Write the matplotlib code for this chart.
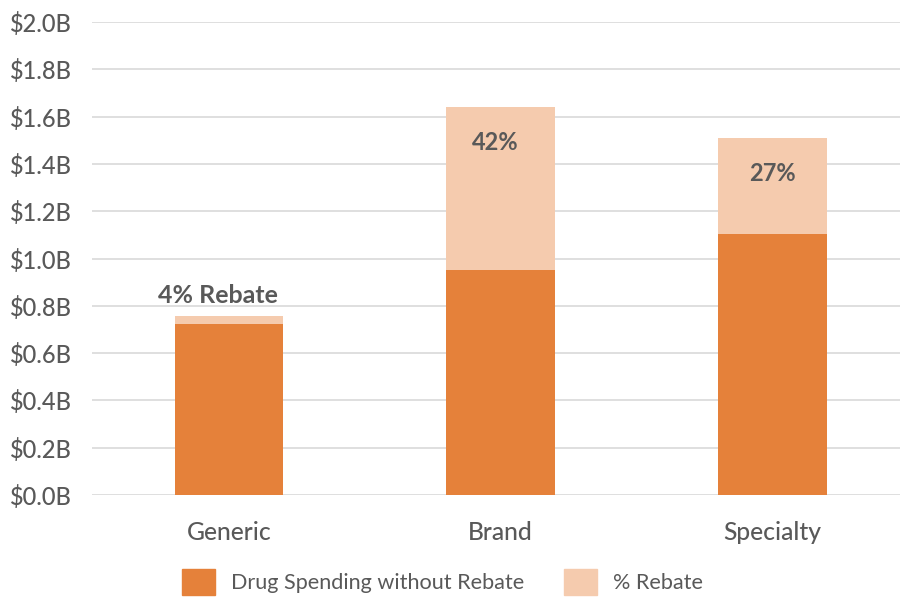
import numpy as np
import matplotlib
matplotlib.use("Agg")
import matplotlib.pyplot as plt
from matplotlib.patches import Patch

plt.rcParams['font.family'] = ['Lato', 'DejaVu Sans']

# chart data (billions of dollars)
categories = ['Generic', 'Brand', 'Specialty']
spend_without_rebate = [0.725, 0.952, 1.102]
rebate = [0.030, 0.688, 0.408]
rebate_labels = ['4% Rebate', '42%', '27%']
yticks = [0.0, 0.2, 0.4, 0.6, 0.8, 1.0, 1.2, 1.4, 1.6, 1.8, 2.0]

dark = '#E5813A'
light = '#F5CBAE'
text_color = '#595959'

fig = plt.figure(figsize=(9, 5.97), dpi=100)
ax = fig.add_axes([0.102, 0.171, 0.898, 0.792])

x = np.arange(len(categories))
ax.bar(x, spend_without_rebate, width=0.40, color=dark, zorder=3)
ax.bar(x, rebate, width=0.40, bottom=spend_without_rebate, color=light, zorder=3)

# rebate labels
totals = [a + b for a, b in zip(spend_without_rebate, rebate)]
ax.text(x[0] - 0.04, totals[0] + 0.055, rebate_labels[0], ha='center', va='baseline',
        fontsize=18, fontweight='bold', color=text_color)
for i in (1, 2):
    ax.text(x[i] - (0.02 if i == 1 else 0), totals[i] - 0.1, rebate_labels[i], ha='center', va='top',
            fontsize=17, fontweight='bold', color=text_color)

ax.set_ylim(0, 2.0)
ax.set_xlim(-0.505, 2.47)
ax.set_yticks(yticks)
ax.set_yticklabels(['$%.1fB' % v for v in yticks], fontweight='medium')
ax.set_xticks(x)
ax.set_xticklabels(categories, fontweight='medium')
ax.tick_params(axis='both', length=0, colors=text_color)
ax.tick_params(axis='y', pad=14, labelsize=17)
ax.tick_params(axis='x', pad=19, labelsize=17.7)
ax.grid(axis='y', color='#D9D9D9', linewidth=1.2, zorder=0)
for s in ax.spines.values():
    s.set_visible(False)

handles = [Patch(color=dark, label='Drug Spending without Rebate'),
           Patch(color=light, label='% Rebate')]
fig.legend(handles=handles, loc='center', bbox_to_anchor=(0.492, 0.025), ncol=2,
           frameon=False, fontsize=15.6, handlelength=1.52, handleheight=1.5,
           handletextpad=0.74, columnspacing=1.84, labelcolor=text_color,
           borderpad=0, borderaxespad=0)

fig.savefig('out.png', dpi=100)
